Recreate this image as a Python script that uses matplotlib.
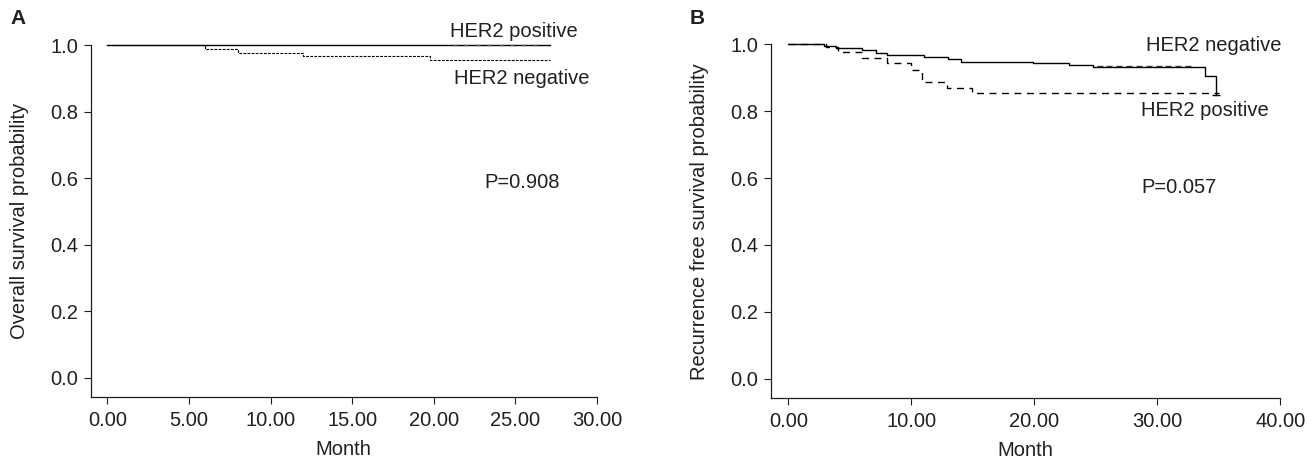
import matplotlib
matplotlib.use('Agg')
import matplotlib.pyplot as plt
from matplotlib.ticker import FormatStrFormatter

plt.rcParams['font.family'] = ['Liberation Sans', 'DejaVu Sans']
plt.rcParams['font.size'] = 14.5

INK = '#231f20'

# Panel A - overall survival (step times in months, survival after each step)
a_pos_t = [0, 27.1]
a_pos_s = [1.0, 1.0]
a_neg_t = [0, 6.0, 8.0, 12.0, 19.8, 27.1]
a_neg_s = [1.0, 0.988, 0.977, 0.966, 0.955, 0.955]
a_pos_cens = [21.3, 22.0, 22.7, 23.4, 24.1, 24.8, 25.5, 26.2]

# Panel B - recurrence free survival
b_neg_t = [0, 2.9, 3.9, 6.0, 7.1, 8.0, 11.0, 13.0, 14.0, 19.9, 22.8, 24.8, 33.9, 34.8]
b_neg_s = [1.0, 0.996, 0.989, 0.985, 0.976, 0.968, 0.963, 0.958, 0.949, 0.944, 0.939, 0.932, 0.906, 0.848]
b_pos_t = [0, 3.1, 4.0, 6.0, 8.0, 10.0, 10.9, 12.9, 14.9, 35.0]
b_pos_s = [1.0, 0.993, 0.979, 0.961, 0.944, 0.925, 0.888, 0.871, 0.854, 0.854]
b_neg_cens = [25.3, 26.1, 26.9, 27.7, 28.5, 29.3, 30.1, 30.9, 31.7, 32.5]

a_xticks = [0, 5, 10, 15, 20, 25, 30]
b_xticks = [0, 10, 20, 30, 40]
yticks = [0.0, 0.2, 0.4, 0.6, 0.8, 1.0]


def styleAxis(ax, xticks, xmin, ylabel):
    ax.set_xlim(xmin, xticks[-1])
    ax.set_ylim(-0.058, 1.0)
    ax.set_xticks(xticks)
    ax.set_yticks(yticks)
    ax.xaxis.set_major_formatter(FormatStrFormatter('%.2f'))
    ax.yaxis.set_major_formatter(FormatStrFormatter('%.1f'))
    ax.spines['top'].set_visible(False)
    ax.spines['right'].set_visible(False)
    for s in ['left', 'bottom']:
        ax.spines[s].set_linewidth(0.9)
        ax.spines[s].set_color(INK)
    ax.tick_params(direction='out', length=5, width=0.8, colors=INK, labelcolor=INK)
    ax.tick_params(axis='x', pad=5)
    ax.tick_params(axis='y', pad=4)
    ax.set_xlabel('Month', color=INK, labelpad=7)
    ax.set_ylabel(ylabel, color=INK, labelpad=15)


def main():
    fig = plt.figure(figsize=(13.16, 4.63), dpi=100)
    axA = fig.add_axes([0.0689, 0.1425, 0.3847, 0.7603])
    axB = fig.add_axes([0.5855, 0.1404, 0.3874, 0.7635])

    # panel A
    axA.step(a_pos_t, a_pos_s, where='post', color='black', lw=1.0, clip_on=False)
    axA.step(a_neg_t, a_neg_s, where='post', color='black', lw=0.8,
             linestyle=(0, (2.5, 1.2)), clip_on=False)
    axA.plot(a_pos_cens, [1.0] * len(a_pos_cens), linestyle='none', marker='_',
             markersize=3.5, color='#555555', clip_on=False)
    styleAxis(axA, a_xticks, -1.02, 'Overall survival probability')
    axA.text(24.9, 1.04, 'HER2 positive', color=INK, ha='center', va='center')
    axA.text(25.4, 0.898, 'HER2 negative', color=INK, ha='center', va='center')
    axA.text(25.4, 0.586, 'P=0.908', color=INK, ha='center', va='center')

    # panel B
    axB.step(b_neg_t, b_neg_s, where='post', color='black', lw=1.0, clip_on=False)
    axB.step(b_pos_t, b_pos_s, where='post', color='black', lw=1.0,
             linestyle=(0, (5, 4)), clip_on=False)
    axB.plot(b_neg_cens, [0.936] * len(b_neg_cens), linestyle='none', marker='_',
             markersize=4, color='#333333')
    axB.plot([b_neg_t[-1]], [b_neg_s[-1]], linestyle='none', marker='_',
             markersize=6, color='black')
    styleAxis(axB, b_xticks, -1.45, 'Recurrence free survival probability')
    axB.text(34.6, 0.998, 'HER2 negative', color=INK, ha='center', va='center')
    axB.text(33.9, 0.803, 'HER2 positive', color=INK, ha='center', va='center')
    axB.text(31.8, 0.572, 'P=0.057', color=INK, ha='center', va='center')

    fig.text(18 / 1316, 1 - 19 / 463, 'A', fontsize=15, fontweight='bold',
             color=INK, ha='center', va='center')
    fig.text(697 / 1316, 1 - 19 / 463, 'B', fontsize=15, fontweight='bold',
             color=INK, ha='center', va='center')

    fig.savefig('out.png', dpi=100)
    plt.close(fig)


if __name__ == '__main__':
    main()
